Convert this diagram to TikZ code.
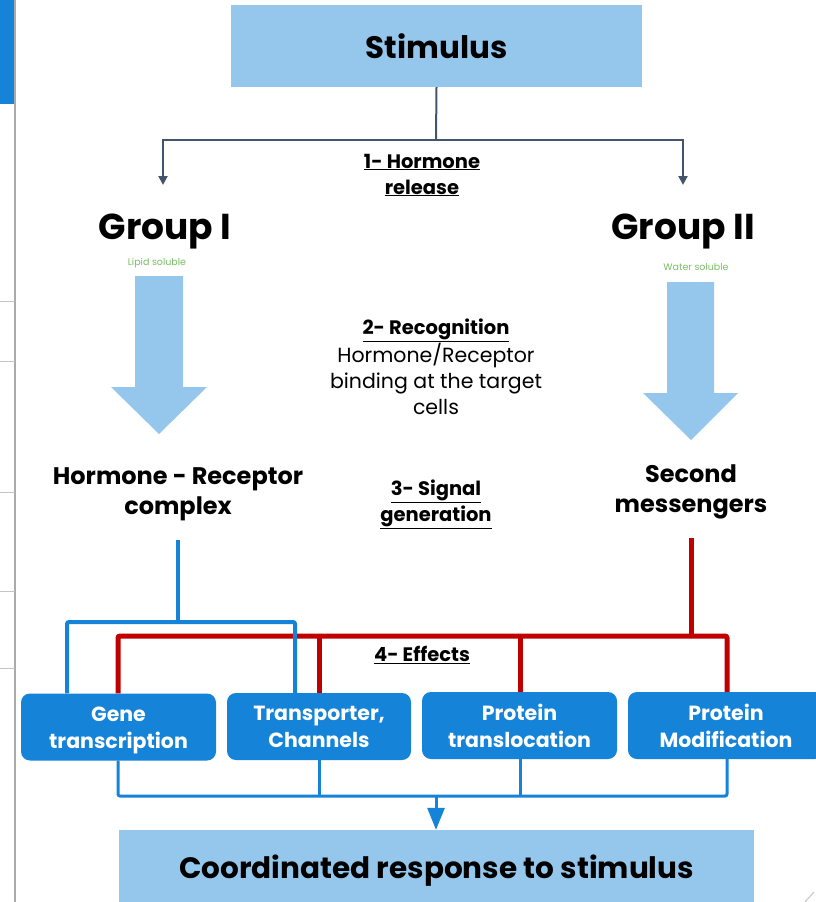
\documentclass[tikz,border=0pt]{standalone}
\usepackage{fontspec}
\setmainfont{Poppins}
\usetikzlibrary{arrows.meta,calc}
\definecolor{lightblue}{RGB}{149,199,237}
\definecolor{boxblue}{RGB}{21,131,216}
\definecolor{darkred}{RGB}{192,0,0}
\definecolor{slate}{RGB}{68,84,106}
\definecolor{softgreen}{RGB}{120,190,100}
\definecolor{uigray}{RGB}{170,170,170}
\begin{document}
\begin{tikzpicture}[x=1pt,y=-1pt,
  lbbox/.style={fill=lightblue, draw=none, inner sep=0pt},
  effbox/.style={fill=boxblue, draw=none, rounded corners=9pt, text=white,
    font=\bfseries\fontsize{20.5}{27}\selectfont, align=center, inner sep=0pt,
    minimum height=67pt},
  steplbl/.style={font=\bfseries\fontsize{19.5}{26}\selectfont, align=center, inner sep=0pt},
  grouplbl/.style={font=\bfseries\fontsize{36}{40}\selectfont, inner sep=0pt},
  smalllbl/.style={font=\fontsize{9.5}{11}\selectfont, text=softgreen, inner sep=0pt},
  midlbl/.style={font=\bfseries\fontsize{24}{30}\selectfont, align=center, inner sep=0pt},
  grayc/.style={draw=slate, line width=2pt},
  bluec/.style={draw=boxblue, line width=4pt},
  redc/.style={draw=darkred, line width=5pt},
  bluethin/.style={draw=boxblue, line width=3pt},
]
\useasboundingbox (0,0) rectangle (815,902);

% screenshot side bar remnants
\fill[boxblue] (0,0) rectangle (14,104);
\draw[uigray, line width=1.5pt] (15,0) -- (15,902);
\foreach \yy in {301,361,492,591,668} \draw[uigray!70, line width=1pt] (0,\yy) -- (15,\yy);
\draw[uigray!70, line width=1pt] (805,902) -- (814,892);

% title box
\node[lbbox, minimum width=411pt, minimum height=82pt,
      font=\bfseries\fontsize{31}{34}\selectfont] (stim) at (436.5,46) {Stimulus};

% groups
\node[grouplbl] (g1) at (165,232) {Group I};
\node[grouplbl] (g2) at (683,232) {Group II};
\node[smalllbl] (lip) at (157,263) {Lipid soluble};
\node[smalllbl] (wat) at (696,267) {Water soluble};

% gray split arrows
\coordinate (gj) at (436,140);
\coordinate (aL) at (163,185);
\coordinate (aR) at (683,185);
\draw[grayc] (stim.south) -- (gj);
\draw[grayc, -{Triangle[length=9pt,width=9pt]}] (gj) -| (aL);
\draw[grayc, -{Triangle[length=9pt,width=9pt]}] (gj) -| (aR);

% step labels
\node[steplbl] (s1) at (422,175) {\underline{1- Hormone}\\\underline{release}};
\node[steplbl, font=\fontsize{20.5}{26}\selectfont] (s2) at (436,367)
  {\textbf{\fontsize{19.5}{26}\selectfont\underline{2- Recognition}}\\Hormone/Receptor\\binding at the target\\cells};
\node[steplbl] (s3) at (436,504) {\underline{3- Signal}\\\underline{generation}};
\node[steplbl] (s4) at (422,655) {\underline{4- Effects}};

% big arrows
\fill[lightblue] (135,276) -- (183,276) -- (183,387) -- (207,387) -- (159,434)
  -- (111,387) -- (135,387) -- cycle;
\fill[lightblue] (667,282) -- (714,282) -- (714,393) -- (738,393) -- (691,440)
  -- (643,393) -- (667,393) -- cycle;

% intermediate labels
\node[midlbl] (hrc) at (178,494) {Hormone - Receptor\\complex};
\node[midlbl] (sm) at (691,492) {Second\\messengers};

% effect boxes
\node[effbox, minimum width=195pt] (gene) at (118.5,727) {\rule{0pt}{21pt}Gene\\transcription};
\node[effbox, minimum width=184pt] (trans) at (319,726.5) {Transporter,\\Channels};
\node[effbox, minimum width=195pt] (transl) at (519.5,725.5) {Protein\\translocation};
\node[effbox, minimum width=196pt] (modif) at (726,725.5) {Protein\\Modification};

% final box
\node[lbbox, minimum width=635pt, minimum height=82pt,
      font=\bfseries\fontsize{29.5}{34}\selectfont] (resp) at (436.5,871) {\raisebox{3pt}{Coordinated response to stimulus}};

% red connectors
\coordinate (sb) at (691,538);
\coordinate (sj) at (691,636);
\coordinate (r1) at (118,636);
\coordinate (r2) at (319,636);
\coordinate (r3) at (520,636);
\coordinate (r4) at (727,636);
\draw[redc] (sb) -- (sj);
\draw[redc, rounded corners=2pt] (gene.north -| r1) -- (r1) -- (r4) -- (modif.north -| r4);
\draw[redc] (r2) -- (trans.north -| r2);
\draw[redc] (r3) -- (transl.north -| r3);

% blue connectors
\coordinate (hb) at (178,540);
\coordinate (hj) at (178,622);
\coordinate (hl) at (67,622);
\coordinate (hr) at (295,622);
\draw[bluec] (hb) -- (hj);
\draw[bluec, rounded corners=2pt] (gene.north -| hl) -- (hl) -- (hr) -- (trans.north -| hr);

% bottom collector
\coordinate (b1) at (118,796);
\coordinate (b2) at (319,796);
\coordinate (b3) at (520,796);
\coordinate (b4) at (727,796);
\coordinate (bm) at (436,796);
\draw[bluethin, rounded corners=2pt] (gene.south -| b1) -- (b1) -- (b4) -- (modif.south -| b4);
\draw[bluethin] (trans.south -| b2) -- (b2);
\draw[bluethin] (transl.south -| b3) -- (b3);
\draw[bluethin, -{Triangle[length=22pt,width=17pt]}] (bm) -- (resp.north -| bm);
\end{tikzpicture}
\end{document}
